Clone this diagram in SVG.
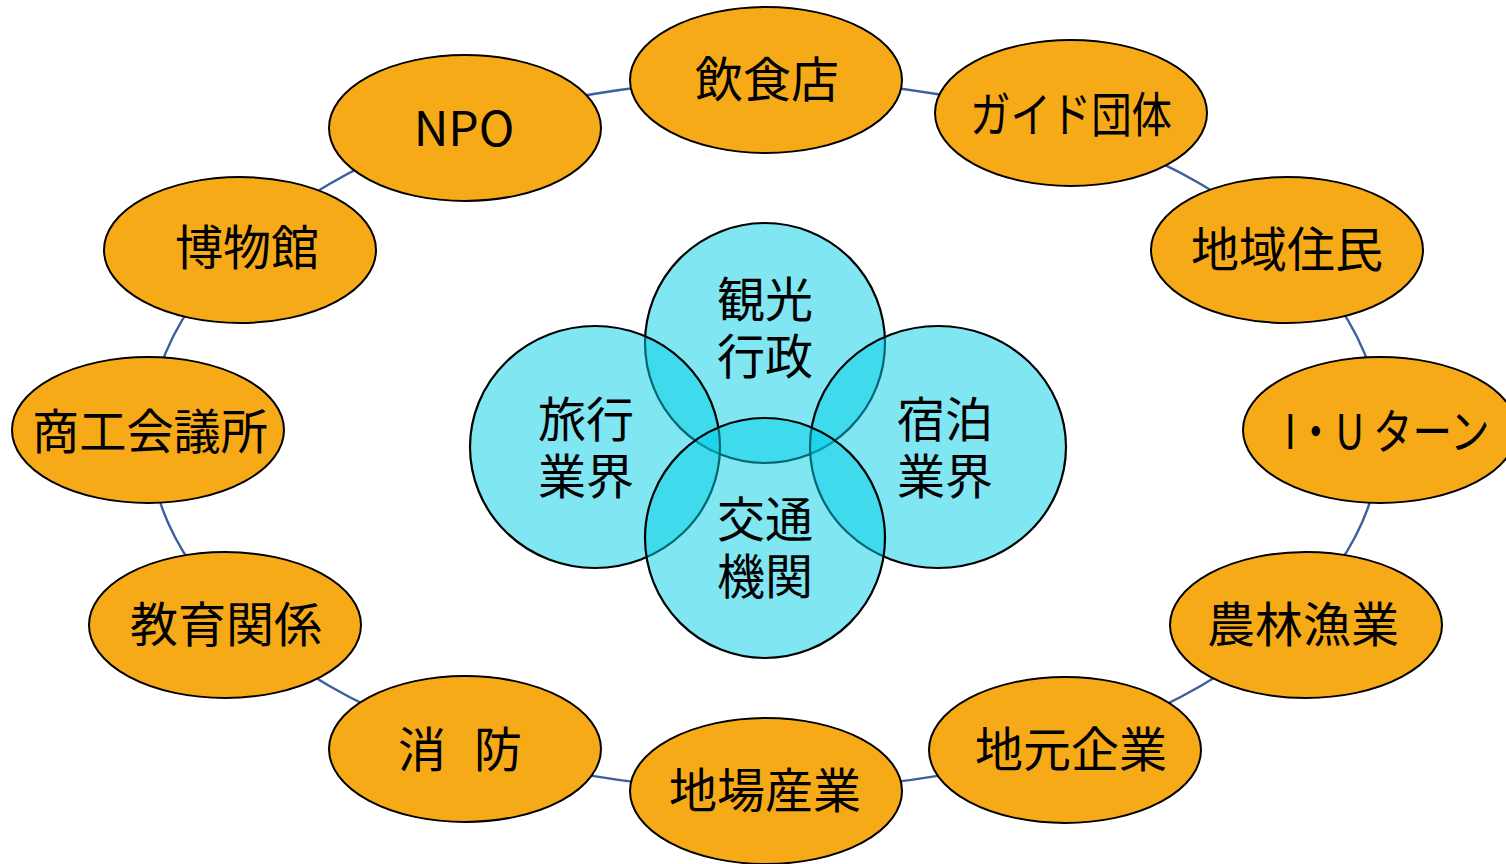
<svg xmlns="http://www.w3.org/2000/svg" width="1506" height="864" viewBox="0 0 1506 864">
<style>
.node ellipse{fill:#F6AA17;stroke:#000;stroke-width:2}
.core ellipse{fill:#00CDE6;fill-opacity:0.5;stroke:#000;stroke-width:2.2}
text{font-family:"Noto Sans CJK JP","Noto Sans",sans-serif;font-size:48px;fill:#000;text-anchor:middle;dominant-baseline:central}
.ring{fill:none;stroke:#3E5E9E;stroke-width:2.4}
</style>
<rect width="1506" height="864" fill="#fff"/>
<g id="connectors">
<ellipse class="ring" cx="765" cy="435" rx="616" ry="355"/>
</g>
<g id="n-inshokuten" class="node"><ellipse cx="766" cy="80" rx="136" ry="73"/><text x="767" y="76">飲食店</text></g>
<g id="n-guide" class="node"><ellipse cx="1071" cy="113" rx="136" ry="73"/><text x="1071" y="111" textLength="202" lengthAdjust="spacingAndGlyphs">ガイド団体</text></g>
<g id="n-chiiki" class="node"><ellipse cx="1287" cy="250" rx="136" ry="73"/><text x="1287" y="246">地域住民</text></g>
<g id="n-iu" class="node"><ellipse cx="1380" cy="430" rx="137" ry="73"/><text x="1387" y="428" textLength="205" lengthAdjust="spacingAndGlyphs">I・U ターン</text></g>
<g id="n-nourin" class="node"><ellipse cx="1306" cy="625" rx="136" ry="73"/><text x="1303" y="621">農林漁業</text></g>
<g id="n-jimoto" class="node"><ellipse cx="1065" cy="750" rx="136" ry="73"/><text x="1071" y="746">地元企業</text></g>
<g id="n-jiba" class="node"><ellipse cx="766" cy="791" rx="136" ry="73"/><text x="765" y="787">地場産業</text></g>
<g id="n-shobo" class="node"><ellipse cx="465" cy="749" rx="136" ry="73"/><text x="460" y="746" textLength="124" lengthAdjust="spacing">消　防</text></g>
<g id="n-kyoiku" class="node"><ellipse cx="225" cy="625" rx="136" ry="73"/><text x="226" y="621">教育関係</text></g>
<g id="n-shoko" class="node"><ellipse cx="148" cy="430" rx="136" ry="73"/><text x="150" y="428" textLength="236" lengthAdjust="spacingAndGlyphs">商工会議所</text></g>
<g id="n-hakubutsu" class="node"><ellipse cx="240" cy="250" rx="136" ry="73"/><text x="247" y="244">博物館</text></g>
<g id="n-npo" class="node"><ellipse cx="465" cy="128" rx="136" ry="73"/><text x="464" y="125">NPO</text></g>
<g id="c-kanko" class="core"><ellipse cx="765" cy="343" rx="120" ry="120"/></g>
<g id="c-ryoko" class="core"><ellipse cx="595" cy="447" rx="125" ry="121"/></g>
<g id="c-shukuhaku" class="core"><ellipse cx="938" cy="447" rx="128" ry="121"/></g>
<g id="c-kotsu" class="core"><ellipse cx="765" cy="538" rx="120" ry="120"/></g>
<g id="core-labels">
<text x="765" y="296"><tspan x="765" y="296">観光</tspan><tspan x="765" y="353">行政</tspan></text>
<text x="586" y="416"><tspan x="586" y="416">旅行</tspan><tspan x="586" y="473">業界</tspan></text>
<text x="945" y="416"><tspan x="945" y="416">宿泊</tspan><tspan x="945" y="473">業界</tspan></text>
<text x="765" y="516"><tspan x="765" y="516">交通</tspan><tspan x="765" y="573">機関</tspan></text>
</g>
</svg>
